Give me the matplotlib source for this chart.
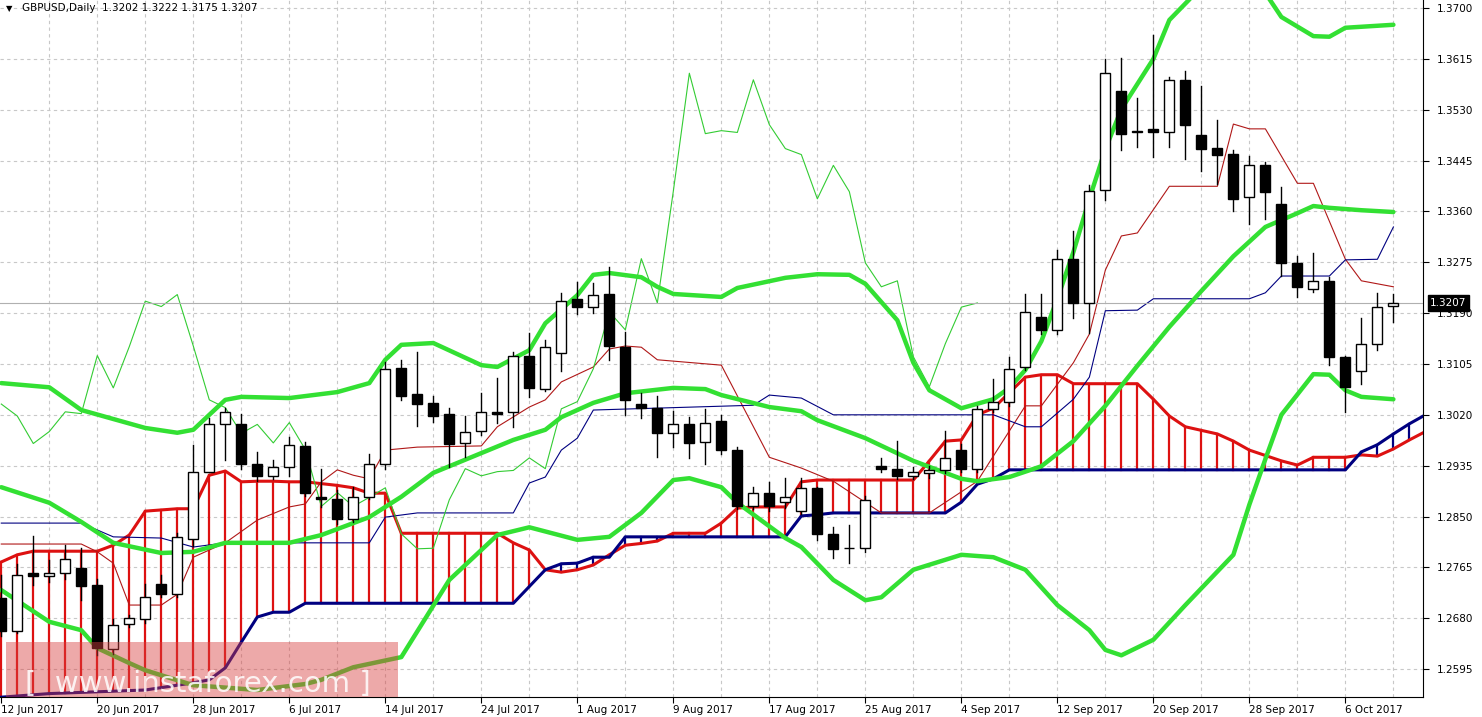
import matplotlib
matplotlib.use("Agg")
import matplotlib.pyplot as plt
import numpy as np
from matplotlib.patches import Rectangle

# ---- OHLC (bar index 0 = 12 Jun 2017) ----
opens = [1.2713,1.2658,1.2755,1.2750,1.2755,1.2764,1.2736,1.2628,1.2670,1.2678,
         1.2738,1.2721,1.2813,1.2925,1.3005,1.3005,1.2938,1.2918,1.2932,1.2968,
         1.2882,1.2879,1.2846,1.2882,1.2937,1.3099,1.3055,1.3040,1.3022,1.2973,
         1.2993,1.3025,1.3025,1.3119,1.3063,1.3124,1.3214,1.3201,1.3222,1.3134,
         1.3038,1.3032,1.2990,1.3004,1.2975,1.3010,1.2962,1.2867,1.2889,1.2875,
         1.2860,1.2898,1.2821,1.2798,1.2798,1.2935,1.2930,1.2918,1.2922,1.2927,
         1.2962,1.2930,1.3030,1.3042,1.3100,1.3184,1.3162,1.3281,1.3207,1.3396,
         1.3561,1.3493,1.3498,1.3493,1.3580,1.3488,1.3466,1.3456,1.3384,1.3437,
         1.3373,1.3274,1.3231,1.3244,1.3117,1.3094,1.3139,1.3202]
highs = [1.2752,1.2770,1.2817,1.2778,1.2803,1.2798,1.2745,1.2678,1.2685,1.2737,
         1.2753,1.2822,1.2970,1.3015,1.3032,1.3022,1.2958,1.2945,1.2983,1.2975,
         1.2929,1.2895,1.2900,1.2954,1.3109,1.3112,1.3125,1.3052,1.3032,1.3018,
         1.3057,1.3082,1.3125,1.3157,1.3145,1.3224,1.3242,1.3240,1.3267,1.3159,
         1.3057,1.3052,1.3027,1.3017,1.3030,1.3020,1.2967,1.2900,1.2908,1.2915,
         1.2915,1.2900,1.2833,1.2836,1.2885,1.2947,1.2977,1.2932,1.2935,1.2993,
         1.2972,1.3035,1.3080,1.3117,1.3222,1.3222,1.3296,1.3328,1.3404,1.3615,
         1.3617,1.3550,1.3655,1.3585,1.3595,1.3570,1.3513,1.3463,1.3453,1.3443,
         1.3401,1.3286,1.3291,1.3250,1.3119,1.3182,1.3224,1.3222]
lows =  [1.2650,1.2655,1.2735,1.2740,1.2745,1.2711,1.2618,1.2620,1.2665,1.2672,
         1.2715,1.2715,1.2800,1.2925,1.2945,1.2929,1.2910,1.2913,1.2917,1.2885,
         1.2866,1.2837,1.2840,1.2880,1.2930,1.3045,1.3002,1.3008,1.2933,1.2950,
         1.2987,1.3007,1.2999,1.3049,1.3060,1.3094,1.3188,1.3190,1.3112,1.3020,
         1.3015,1.2950,1.2967,1.2948,1.2938,1.2955,1.2862,1.2862,1.2860,1.2865,
         1.2855,1.2810,1.2780,1.2773,1.2790,1.2925,1.2912,1.2912,1.2915,1.2922,
         1.2925,1.2925,1.3025,1.3035,1.3095,1.3155,1.3155,1.3182,1.3156,1.3379,
         1.3463,1.3468,1.3451,1.3468,1.3448,1.3428,1.3406,1.3361,1.3339,1.3348,
         1.3252,1.3217,1.3225,1.3104,1.3025,1.3072,1.3129,1.3175]
closes = [1.2658,1.2753,1.2750,1.2755,1.2779,1.2734,1.2630,1.2668,1.2680,1.2716,
          1.2721,1.2815,1.2925,1.3005,1.3025,1.2937,1.2917,1.2933,1.2970,1.2890,
          1.2880,1.2846,1.2882,1.2938,1.3097,1.3052,1.3038,1.3018,1.2972,1.2992,
          1.3025,1.3022,1.3119,1.3065,1.3134,1.3210,1.3201,1.3221,1.3135,1.3045,
          1.3032,1.2989,1.3004,1.2973,1.3007,1.2962,1.2867,1.2890,1.2867,1.2882,
          1.2898,1.2821,1.2796,1.2797,1.2878,1.2930,1.2918,1.2925,1.2927,1.2948,
          1.2930,1.3030,1.3042,1.3097,1.3192,1.3162,1.3281,1.3207,1.3394,1.3591,
          1.3490,1.3495,1.3492,1.3580,1.3505,1.3465,1.3455,1.3381,1.3437,1.3393,
          1.3274,1.3234,1.3244,1.3117,1.3067,1.3139,1.3200,1.3207]

# ---- Ichimoku lines (bar index, price) ----
tenkan_idx = [0,5,6,7,8,10,11,12,14,16,18,19,20,21,22,23,24,26,30,31,33,34,35,37,38,39,40,41,45,48,50,52,55,58,61,64,65,67,68,69,70,71,73,76,77,78,79,81,82,84,85,87]
tenkan_val = [1.2804,1.2804,1.2791,1.2772,1.2702,1.2702,1.2720,1.2782,1.2806,1.2844,1.2866,1.2871,1.2908,1.2928,1.2919,1.2913,1.2961,1.2966,1.2968,1.3000,1.3033,1.3045,1.3075,1.3100,1.3130,1.3135,1.3133,1.3112,1.3103,1.2949,1.2931,1.2909,1.2856,1.2856,1.2909,1.3035,1.3035,1.3107,1.3155,1.3262,1.3319,1.3324,1.3402,1.3402,1.3506,1.3498,1.3498,1.3407,1.3407,1.3280,1.3244,1.3234]
kijun_idx = [0,5,7,10,12,14,23,24,26,32,33,34,35,36,37,47,48,50,52,62,64,65,67,68,69,71,72,78,79,80,83,84,86,87]
kijun_val = [1.2839,1.2839,1.2816,1.2814,1.2799,1.2806,1.2806,1.2849,1.2856,1.2856,1.2906,1.2916,1.2961,1.2981,1.3028,1.3036,1.3053,1.3048,1.3020,1.3020,1.3000,1.3000,1.3046,1.3083,1.3194,1.3195,1.3214,1.3214,1.3224,1.3252,1.3252,1.3279,1.3280,1.3334]
span_a = [1.2774,1.2786,1.2792,1.2792,1.2792,1.2792,1.2792,1.2802,1.2819,1.2859,
          1.2861,1.2863,1.2863,1.2919,1.2926,1.2908,1.2909,1.2909,1.2908,1.2908,
          1.2905,1.2902,1.2898,1.2889,1.2889,1.2822,1.2822,1.2822,1.2822,1.2822,
          1.2822,1.2822,1.2806,1.2794,1.2761,1.2757,1.2761,1.2769,1.2786,1.2802,
          1.2805,1.2809,1.2822,1.2822,1.2822,1.2839,1.2864,1.2866,1.2866,1.2866,
          1.2908,1.2911,1.2911,1.2911,1.2911,1.2911,1.2911,1.2911,1.2943,1.2976,
          1.2978,1.3020,1.3031,1.3057,1.3083,1.3087,1.3087,1.3072,1.3072,1.3072,
          1.3072,1.3072,1.3046,1.3018,1.3000,1.2994,1.2988,1.2976,1.2961,1.2952,
          1.2943,1.2936,1.2949,1.2949,1.2949,1.2953,1.2951,1.2963,1.2978,1.2992]
span_b = [1.2548,1.2550,1.2552,1.2554,1.2555,1.2556,1.2557,1.2558,1.2559,1.2560,
          1.2564,1.2568,1.2572,1.2577,1.2597,1.2640,1.2682,1.2690,1.2690,1.2705,
          1.2705,1.2705,1.2705,1.2705,1.2705,1.2705,1.2705,1.2705,1.2705,1.2705,
          1.2705,1.2705,1.2705,1.2733,1.2761,1.2771,1.2772,1.2782,1.2782,1.2816,
          1.2816,1.2816,1.2816,1.2816,1.2816,1.2816,1.2816,1.2816,1.2816,1.2816,
          1.2851,1.2853,1.2856,1.2856,1.2856,1.2856,1.2856,1.2856,1.2856,1.2856,
          1.2874,1.2904,1.2913,1.2928,1.2928,1.2928,1.2928,1.2928,1.2928,1.2928,
          1.2928,1.2928,1.2928,1.2928,1.2928,1.2928,1.2928,1.2928,1.2928,1.2928,
          1.2928,1.2928,1.2928,1.2928,1.2928,1.2958,1.2970,1.2988,1.3005,1.3020]

# ---- Bollinger bands (bar index, price) ----
bb_up_idx = [0,3,5,9,11,12,14,15,18,21,23,24,25,27,30,31,33,34,36,37,38,40,41,42,45,46,49,51,53,54,56,57,58,60,62,63,64,65,66,67,68,69,70,71,72,73,75,77,79,80,82,83,84,87]
bb_up_val = [1.3073,1.3066,1.3028,1.2998,1.2990,1.2995,1.3045,1.3050,1.3048,1.3058,1.3073,1.3112,1.3137,1.3140,1.3103,1.3100,1.3128,1.3173,1.3220,1.3254,1.3257,1.3250,1.3234,1.3222,1.3217,1.3232,1.3249,1.3255,1.3254,1.3239,1.3178,1.3107,1.3061,1.3031,1.3046,1.3065,1.3095,1.3143,1.3214,1.3292,1.3381,1.3464,1.3531,1.3573,1.3615,1.3680,1.3735,1.3755,1.3725,1.3685,1.3653,1.3652,1.3667,1.3672]
bb_mid_idx = [0,3,5,7,10,12,14,18,20,23,25,27,30,32,34,35,37,39,42,44,45,48,50,51,54,57,60,61,63,65,67,69,71,73,75,77,79,81,82,83,85,87]
bb_mid_val = [1.2899,1.2873,1.2841,1.2806,1.2789,1.2791,1.2806,1.2806,1.2819,1.2849,1.2883,1.2923,1.2956,1.2978,1.2995,1.3016,1.3040,1.3056,1.3065,1.3063,1.3053,1.3033,1.3026,1.3011,1.2981,1.2943,1.2913,1.2909,1.2916,1.2934,1.2976,1.3035,1.3102,1.3167,1.3227,1.3285,1.3334,1.3357,1.3369,1.3366,1.3362,1.3359]
bb_lo_idx = [0,3,5,6,8,9,12,16,19,20,22,25,28,31,33,36,38,40,42,43,45,46,49,50,52,54,55,57,60,62,64,66,68,69,70,72,74,77,78,79,80,82,83,84,85,87]
bb_lo_val = [1.2727,1.2674,1.2660,1.2630,1.2605,1.2593,1.2568,1.2560,1.2570,1.2577,1.2598,1.2615,1.2744,1.2819,1.2832,1.2811,1.2816,1.2856,1.2911,1.2914,1.2899,1.2873,1.2814,1.2799,1.2744,1.2710,1.2715,1.2761,1.2786,1.2782,1.2761,1.2702,1.2660,1.2627,1.2618,1.2644,1.2702,1.2786,1.2870,1.2946,1.3020,1.3088,1.3087,1.3061,1.3050,1.3046]

price_ticks = [1.3700,1.3615,1.3530,1.3445,1.3360,1.3275,1.3190,1.3105,1.3020,1.2935,1.2850,1.2765,1.2680,1.2595]
date_idx = [0,6,12,18,24,30,36,42,48,54,60,66,72,78,84]
date_labels = ["12 Jun 2017","20 Jun 2017","28 Jun 2017","6 Jul 2017","14 Jul 2017","24 Jul 2017",
               "1 Aug 2017","9 Aug 2017","17 Aug 2017","25 Aug 2017","4 Sep 2017","12 Sep 2017",
               "20 Sep 2017","28 Sep 2017","6 Oct 2017"]
last_price = 1.3207
title = "GBPUSD,Daily  1.3202 1.3222 1.3175 1.3207"
chikou_shift = 26

fig = plt.figure(figsize=(14.82, 7.17), dpi=100)
ax = fig.add_axes([0, 20/717, 1423/1482, 697/717])
ax.set_xlim(-0.08, 88.85)
ax.set_ylim(1.25483, 1.37134)

GREEN = "#33e033"
for t in price_ticks:
    ax.axhline(t, color="#c8c8c8", lw=0.8, ls=(0, (3, 3)), zorder=0)
for v in range(3, 90, 3):
    ax.axvline(v, color="#c8c8c8", lw=0.8, ls=(0, (3, 3)), zorder=0)

# cloud hatch
n = len(span_a)
for i in range(n):
    col = "#dd1111" if span_a[i] >= span_b[i] else "#000080"
    ax.plot([i, i], [span_a[i], span_b[i]], color=col, lw=1.6, zorder=1)
ax.plot(range(n), span_a, color="#dd1111", lw=2.2, zorder=2)
ax.plot(range(n), span_b, color="#000080", lw=2.2, zorder=2)

# thin ichimoku lines
ax.plot(tenkan_idx, tenkan_val, color="#b01818", lw=0.8, zorder=3)
ax.plot(kijun_idx, kijun_val, color="#000080", lw=0.8, zorder=3)
ch = closes[chikou_shift:]
ax.plot(range(len(ch)), ch, color="#33cc33", lw=0.8, zorder=3)

# bollinger
for ix, vv in [(bb_up_idx, bb_up_val), (bb_mid_idx, bb_mid_val), (bb_lo_idx, bb_lo_val)]:
    ax.plot(ix, vv, color=GREEN, lw=3.2, zorder=4, solid_capstyle="round")

ax.axhline(last_price, color="#b0b0b0", lw=0.8, zorder=3)

# candles
w = 0.62
for i, (o, h, l, c) in enumerate(zip(opens, highs, lows, closes)):
    ax.plot([i, i], [l, h], color="black", lw=1, zorder=5)
    lo, hi = min(o, c), max(o, c)
    fc = "white" if c >= o else "black"
    ax.add_patch(Rectangle((i - w/2, lo), w, max(hi - lo, 0.00008), facecolor=fc,
                           edgecolor="black", lw=1, zorder=6))

# watermark
ax.add_patch(Rectangle((0.3, 1.2548), 24.5, 0.0092, facecolor="#d84040", alpha=0.45,
                       edgecolor="none", zorder=7))
ax.text(1.5, 1.2570, "[  www.instaforex.com ]", color="white", alpha=0.85, fontsize=21,
        va="center", ha="left", zorder=8, family="DejaVu Sans")

# axes styling
for s in ["top", "left"]:
    ax.spines[s].set_visible(False)
ax.spines["right"].set_color("black")
ax.spines["bottom"].set_color("black")
ax.yaxis.tick_right()
ax.set_yticks(price_ticks)
ax.set_yticklabels([f"{t:.4f}" for t in price_ticks], fontsize=7.5)
ax.tick_params(axis="y", length=4, pad=6)
ax.set_xticks(date_idx)
ax.set_xticklabels(date_labels, fontsize=7.5, ha="left")
ax.tick_params(axis="x", length=4, pad=2)

ax.text(1.0 + 0.005, (last_price - 1.25483) / (1.37134 - 1.25483), f"{last_price:.4f}",
        transform=ax.transAxes, fontsize=7.5, color="white", va="center", ha="left",
        bbox=dict(boxstyle="square,pad=0.25", fc="black", ec="black"), zorder=10, clip_on=False)

ax.text(0.3, 1.3700, "\u25bc", fontsize=6, va="center", ha="left", zorder=10)
ax.text(1.3, 1.3700, title, fontsize=7.5, va="center", ha="left", zorder=10)

fig.savefig("out.png", dpi=100, facecolor="white")
